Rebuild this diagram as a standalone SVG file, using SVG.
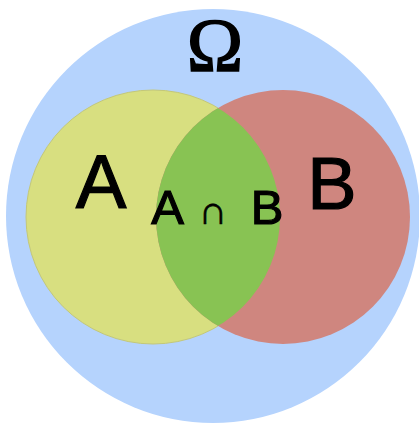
<svg xmlns="http://www.w3.org/2000/svg" width="419" height="423" viewBox="0 0 419 423">
  <style>
    .label { font-family: "Liberation Sans", Arial, sans-serif; fill: #000; stroke: #000; stroke-width: 1.2; text-anchor: middle; }
    .omega { font-family: "Liberation Serif", "Times New Roman", serif; fill: #000; stroke: #000; stroke-width: 1.5; text-anchor: middle; }
  </style>
  <defs>
    <clipPath id="clipA">
      <circle cx="153" cy="217" r="127"/>
    </clipPath>
  </defs>
  <!-- Universe -->
  <g id="omega">
    <circle cx="213" cy="216" r="207" fill="#b5d3fd"/>
    <text class="omega" x="215" y="71" font-size="76">Ω</text>
  </g>
  <!-- Set A -->
  <g id="setA">
    <circle cx="153" cy="217" r="127" fill="#d8df80" stroke="#c4c878" stroke-width="1"/>
    <text class="label" x="101" y="208" font-size="76">A</text>
  </g>
  <!-- Set B -->
  <g id="setB">
    <circle cx="283" cy="217" r="127" fill="#cf867f"/>
    <text class="label" x="332" y="209" font-size="74">B</text>
  </g>
  <!-- Intersection -->
  <g id="intersection">
    <circle cx="283" cy="217" r="127" fill="#88c353" clip-path="url(#clipA)"/>
    <text class="label" y="224" font-size="49"><tspan x="173">A</tspan> <tspan x="220" font-size="40" stroke-width="0.6">∩</tspan> <tspan x="267">B</tspan></text>
  </g>
  <g id="connectors"/>
</svg>
